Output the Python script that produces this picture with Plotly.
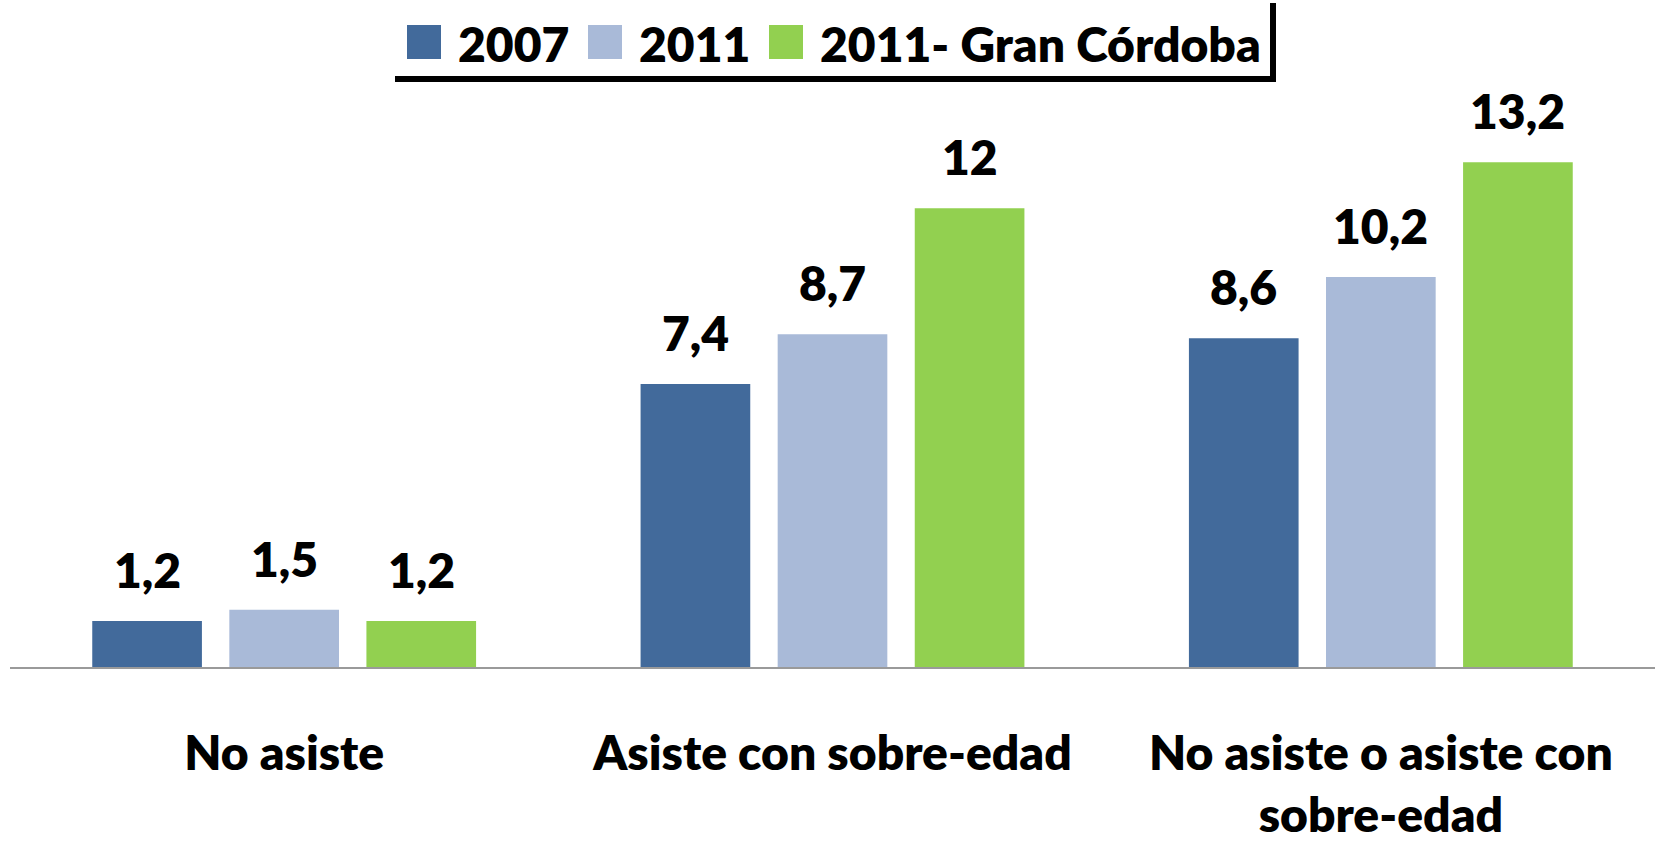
import plotly.graph_objects as go

# ---- data ----
categories = ["No asiste", "Asiste con sobre-edad", "No asiste o asiste con sobre-edad"]
tick_labels = ["No asiste", "Asiste con sobre-edad", "No asiste o asiste con<br>sobre-edad"]
series_names = ["2007", "2011", "2011- Gran Córdoba"]
values_2007 = [1.2, 7.4, 8.6]
values_2011 = [1.5, 8.7, 10.2]
values_gc = [1.2, 12.0, 13.2]
series_values = [values_2007, values_2011, values_gc]
colors = ["#426A9B", "#A9BAD8", "#92D050"]

# ---- layout constants ----
W, H = 1655, 843
ML, MR, MT, MB = 10, 0, 17, 176
YMAX = 17
BARGAP = 0.25
GROUPGAP = 0.2
FONT = "Lato"
FS = 48
FW = 800

PW = W - ML - MR
PH = H - MT - MB


def px_x(p):
    return (p - ML) / PW


def px_y(p):
    return (H - MB - p) / PH


def fmt(v):
    return f"{v:g}".replace(".", ",")


fig = go.Figure()
for name, vals, col in zip(series_names, series_values, colors):
    fig.add_trace(go.Bar(
        x=list(range(len(categories))), y=vals, name=name,
        marker=dict(color=col, line=dict(width=0)),
        showlegend=False,
        hovertext=categories,
    ))

# data labels
slot = (1 - BARGAP) / len(series_names)
annotations = []
for j, vals in enumerate(series_values):
    for i, v in enumerate(vals):
        annotations.append(dict(
            x=i + (j - (len(series_names) - 1) / 2) * slot, y=v,
            xref="x", yref="y", text=fmt(v), showarrow=False,
            yanchor="bottom", xanchor="center", yshift=21,
            font=dict(family=FONT, size=FS, color="black", weight=FW),
        ))

# manual legend (large squares as in original)
legend_sq_left = [407, 588, 769]
legend_text_left = [456, 637, 818]
shapes = []
for k, name in enumerate(series_names):
    shapes.append(dict(
        type="rect", xref="paper", yref="paper",
        x0=px_x(legend_sq_left[k]), x1=px_x(legend_sq_left[k] + 34),
        y0=px_y(59), y1=px_y(25),
        fillcolor=colors[k], line=dict(width=0),
    ))
    annotations.append(dict(
        x=px_x(legend_text_left[k]), y=px_y(43), xref="paper", yref="paper",
        text=name, showarrow=False, xanchor="left", yanchor="middle",
        font=dict(family=FONT, size=FS, color="black", weight=FW),
    ))
# legend frame (bottom + right edges)
shapes.append(dict(type="line", xref="paper", yref="paper",
                   x0=px_x(395), x1=px_x(1276), y0=px_y(79), y1=px_y(79),
                   line=dict(color="black", width=6)))
shapes.append(dict(type="line", xref="paper", yref="paper",
                   x0=px_x(1273), x1=px_x(1273), y0=px_y(3), y1=px_y(82),
                   line=dict(color="black", width=6)))

fig.update_layout(
    width=W, height=H,
    margin=dict(l=ML, r=MR, t=MT, b=MB, pad=0, autoexpand=False),
    paper_bgcolor="white", plot_bgcolor="white",
    barmode="group", bargap=BARGAP, bargroupgap=GROUPGAP,
    showlegend=False,
    annotations=annotations, shapes=shapes,
    xaxis=dict(
        tickmode="array", tickvals=list(range(len(categories))), ticktext=tick_labels,
        range=[-0.5, len(categories) - 0.5],
        showline=True, linecolor="#9A9A9A", linewidth=2,
        showgrid=False, zeroline=False, ticks="",
        tickfont=dict(family=FONT, size=FS, color="black", weight=FW),
        ticklabelstandoff=43, automargin=False,
    ),
    yaxis=dict(range=[0, YMAX], visible=False, showgrid=False, zeroline=False,
               automargin=False),
)

fig.write_html("out.html", config={"displayModeBar": False},
               post_script="document.body.style.margin='0';")
